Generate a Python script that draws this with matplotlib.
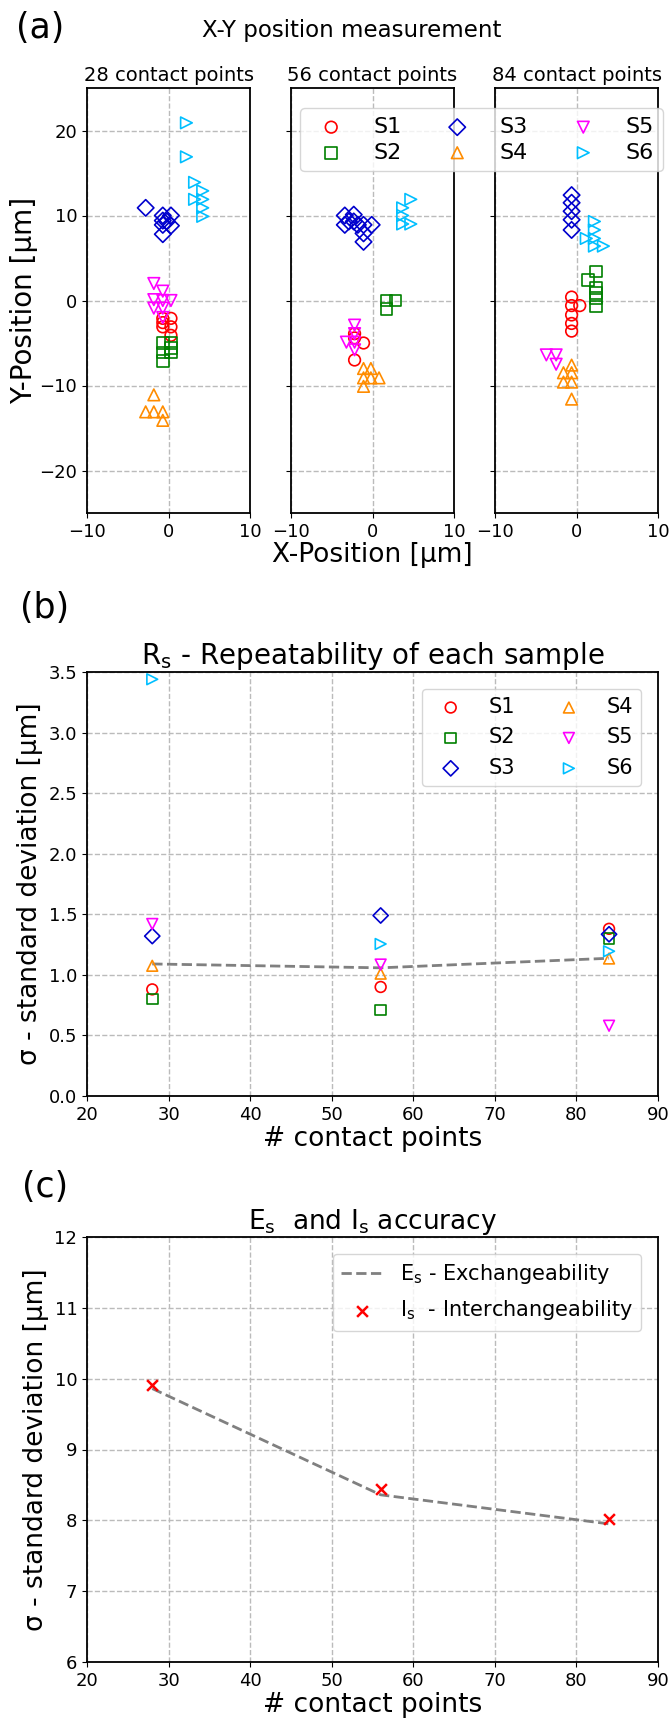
import numpy as np
import matplotlib.pyplot as plt

# sample styles
names = ["S1", "S2", "S3", "S4", "S5", "S6"]
colors = ["red", "green", "mediumblue", "darkorange", "magenta", "deepskyblue"]
marks = ["o", "s", "D", "^", "v", ">"]

# (a) X-Y positions, one dict per number of contact points
xy28 = {
    "S1": ([-0.7, 0.3, -0.7, 0.3, 0.3, -0.7], [-2.1, -2.1, -3.1, -3.1, -4.1, -2.6]),
    "S2": ([-0.7, 0.3, -0.7, 0.3, -0.7, 0.3], [-5.0, -5.0, -6.1, -6.1, -7.1, -5.6]),
    "S3": ([-2.8, -0.7, 0.3, -0.7, -0.2, 0.3, -0.7, -0.7], [10.9, 10.0, 10.0, 8.9, 9.3, 8.8, 7.8, 9.4]),
    "S4": ([-1.8, -2.8, -1.8, -0.7, -0.7], [-11.1, -13.1, -13.1, -13.1, -14.1]),
    "S5": ([-1.8, -0.7, -1.8, -0.7, 0.3, -1.8, -0.7, -0.7], [2.0, 1.1, 0.1, 0.0, 0.0, -0.9, -0.9, -2.0]),
    "S6": ([2.2, 2.2, 3.2, 3.2, 4.2, 4.2, 4.2, 4.2], [20.9, 16.9, 13.9, 11.9, 12.9, 11.9, 10.9, 9.9]),
}
xy56 = {
    "S1": ([-2.2, -1.1, -2.2, -2.2], [-3.9, -5.0, -7.0, -4.4]),
    "S2": ([1.7, 2.8, 1.7], [0.0, 0.0, -1.0]),
    "S3": ([-3.4, -2.3, -2.9, -3.4, -1.8, -1.1, -0.1, -1.1, -1.1, -2.3], [10.0, 10.1, 9.3, 8.9, 8.9, 8.9, 8.9, 7.9, 6.9, 9.3]),
    "S4": ([-1.1, -0.2, -1.1, -0.2, 0.8, -1.1], [-8.0, -8.0, -9.1, -9.1, -9.1, -10.1]),
    "S5": ([-2.2, -2.2, -3.2, -2.2, -2.2], [-2.9, -3.9, -4.9, -4.9, -5.8]),
    "S6": ([4.7, 3.7, 3.7, 3.7, 4.7], [11.9, 10.9, 10.0, 9.0, 9.0]),
}
xy84 = {
    "S1": ([-0.6, -0.6, -0.6, -0.6, -0.6, 0.4], [0.4, -0.6, -1.7, -2.7, -3.6, -0.6]),
    "S2": ([2.4, 1.4, 2.4, 2.4, 2.4, 2.4], [3.4, 2.4, 1.5, 0.3, -0.7, 0.9]),
    "S3": ([-0.6, -0.6, -0.6, -0.6, -0.6], [12.4, 11.5, 10.5, 9.5, 8.3]),
    "S4": ([-0.6, -1.6, -0.6, -1.6, -0.6, -0.6], [-7.6, -8.5, -8.5, -9.6, -9.6, -11.6]),
    "S5": ([-3.7, -2.5, -2.5], [-6.4, -6.4, -7.5]),
    "S6": ([2.2, 2.2, 1.2, 2.2, 2.2, 3.3], [9.3, 8.3, 7.3, 7.3, 6.4, 6.4]),
}
panels_a = [(xy28, "28 contact points"), (xy56, "56 contact points"), (xy84, "84 contact points")]

# (b) repeatability
cp = [28, 56, 84]
rs = {
    "S1": [0.88, 0.90, 1.38],
    "S2": [0.80, 0.71, 1.30],
    "S3": [1.32, 1.49, 1.335],
    "S4": [1.075, 1.01, 1.135],
    "S5": [1.42, 1.085, 0.58],
    "S6": [3.44, 1.255, 1.195],
}
rs_mean = [1.09, 1.058, 1.137]

# (c) accuracy
es = [9.86, 8.36, 7.95]
is_ = [9.91, 8.44, 8.02]

W, H = 671, 1722
fig = plt.figure(figsize=(W / 100, H / 100), dpi=100)

def frac(l, t, r, b):
    return [l / W, 1 - b / H, (r - l) / W, (b - t) / H]

def grid(ax):
    ax.grid(True, ls="--", color="#bbbbbb", lw=1)
    ax.set_axisbelow(True)
    for s in ax.spines.values():
        s.set_linewidth(1.3)
    ax.tick_params(labelsize=13)

lefts = [87, 291, 495]
axs_a = []
for i, (d, ttl) in enumerate(panels_a):
    ax = fig.add_axes(frac(lefts[i], 88, lefts[i] + 163, 513))
    for n, c, m in zip(names, colors, marks):
        ax.scatter(d[n][0], d[n][1], s=70, marker=m, facecolors="none", edgecolors=c, lw=1.2, label=n)
    ax.set_xlim(-10, 10)
    ax.set_ylim(-25, 25)
    ax.set_xticks([-10, 0, 10])
    ax.set_yticks([-20, -10, 0, 10, 20])
    if i > 0:
        ax.set_yticklabels([])
    ax.set_title(ttl, fontsize=14, pad=5)
    grid(ax)
    axs_a.append(ax)

h, l = axs_a[0].get_legend_handles_labels()
fig.legend(h, l, ncol=3, fontsize=16, loc="upper left", bbox_to_anchor=(289 / W, 1 - 97 / H),
           columnspacing=1.5, labelspacing=0.25, handletextpad=0.9, borderpad=0.4)
fig.text(372 / W, 1 - 555 / H, "X-Position [µm]", fontsize=19, ha="center", va="center")
fig.text(24 / W, 1 - 300 / H, "Y-Position [µm]", fontsize=20, ha="center", va="center", rotation=90)
fig.text(352 / W, 1 - 30 / H, "X-Y position measurement", fontsize=16.5, ha="center", va="center")
fig.text(40 / W, 1 - 28 / H, "(a)", fontsize=25, ha="center", va="center")

# (b)
axb = fig.add_axes(frac(87, 672, 658, 1096))
for n, c, m in zip(names, colors, marks):
    axb.scatter(cp, rs[n], s=60, marker=m, facecolors="none", edgecolors=c, lw=1.2, label=n, zorder=3)
axb.plot(cp, rs_mean, ls="--", color="gray", lw=2)
axb.set_xlim(20, 90)
axb.set_ylim(0, 3.5)
axb.set_yticks(np.arange(0, 3.6, 0.5))
axb.set_title(r"R$_\mathregular{s}$ - Repeatability of each sample", fontsize=20, pad=5)
axb.set_xlabel("# contact points", fontsize=19, labelpad=2)
axb.set_ylabel("σ - standard deviation [µm]", fontsize=19)
axb.legend(ncol=2, fontsize=15, loc="upper right", columnspacing=1.6, labelspacing=0.5, borderaxespad=0.8)
grid(axb)
fig.text(45 / W, 1 - 608 / H, "(b)", fontsize=25, ha="center", va="center")

# (c)
axc = fig.add_axes(frac(87, 1237, 658, 1662))
axc.plot(cp, es, ls="--", color="gray", lw=2, label=r"E$_\mathregular{s}$ - Exchangeability")
axc.scatter(cp, is_, marker="x", color="red", s=60, lw=1.8, label=r"I$_\mathregular{s}$  - Interchangeability", zorder=3)
axc.set_xlim(20, 90)
axc.set_ylim(6, 12)
axc.set_title(r"E$_\mathregular{s}$  and I$_\mathregular{s}$ accuracy", fontsize=19, pad=5)
axc.set_xlabel("# contact points", fontsize=19, labelpad=2)
axc.set_ylabel("σ - standard deviation [µm]", fontsize=19)
axc.legend(fontsize=15, loc="upper right", borderaxespad=0.8, labelspacing=0.6)
grid(axc)
fig.text(45 / W, 1 - 1187 / H, "(c)", fontsize=25, ha="center", va="center")

fig.savefig("out.png", dpi=100)
